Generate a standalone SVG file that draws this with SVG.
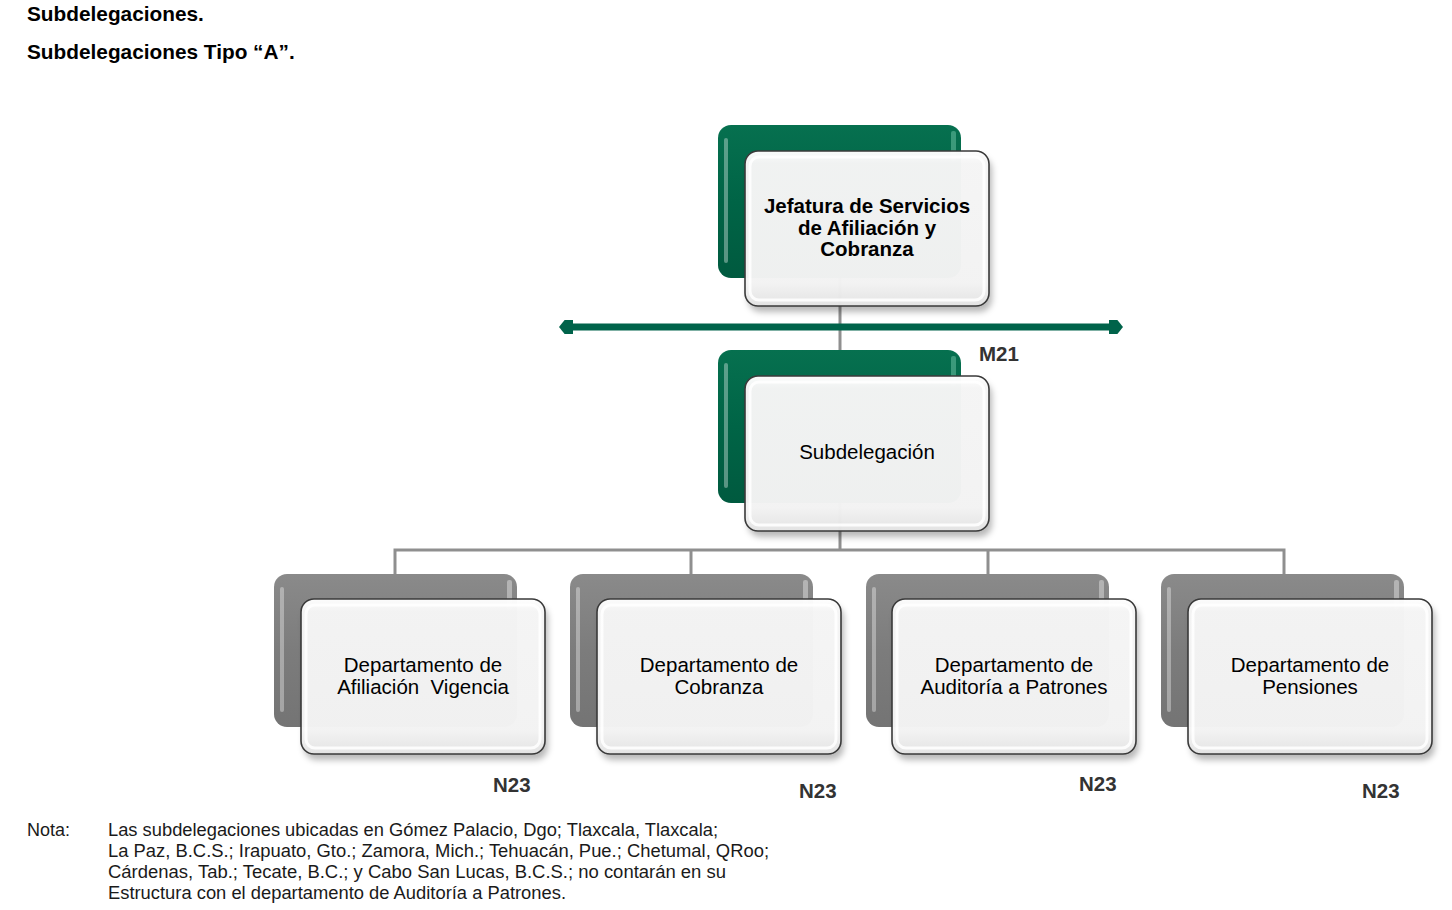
<svg xmlns="http://www.w3.org/2000/svg" width="1452" height="910" viewBox="0 0 1452 910">
<defs>
<style>
.hdr{font-family:"Liberation Sans",Arial,sans-serif;font-weight:bold;font-size:20.8px;fill:#000}
.lvl{font-family:"Liberation Sans",Arial,sans-serif;font-weight:bold;font-size:20.5px;fill:#333}
.nb{font-family:"Liberation Sans",Arial,sans-serif;font-weight:bold;font-size:20.5px;fill:#000;text-anchor:middle}
.nr{font-family:"Liberation Sans",Arial,sans-serif;font-size:20.5px;fill:#000;text-anchor:middle;white-space:pre}
.note{font-family:"Liberation Sans",Arial,sans-serif;font-size:17.5px;fill:#1a1a1a}
.conn{stroke:#8f8f8f;stroke-width:3;fill:none}
.front{fill:url(#frontG);fill-opacity:0.975;stroke:#3a3a3a;stroke-width:1.6}
.bevel{fill:none;stroke:#ffffff;stroke-width:3;stroke-opacity:0.85}
.shadow{fill:#000;fill-opacity:0.28;filter:url(#blur)}
.hlg{fill:#ffffff;fill-opacity:0.35}
</style>
<linearGradient id="greenG" x1="0" y1="0" x2="0" y2="1">
<stop offset="0" stop-color="#06704f"/>
<stop offset="0.5" stop-color="#006446"/>
<stop offset="1" stop-color="#005a3f"/>
</linearGradient>
<linearGradient id="grayG" x1="0" y1="0" x2="0" y2="1">
<stop offset="0" stop-color="#8a8a8a"/>
<stop offset="0.5" stop-color="#7c7c7c"/>
<stop offset="1" stop-color="#747474"/>
</linearGradient>
<linearGradient id="frontG" x1="0" y1="0" x2="0" y2="1">
<stop offset="0" stop-color="#ffffff"/>
<stop offset="0.08" stop-color="#f6f6f6"/>
<stop offset="0.85" stop-color="#f4f4f4"/>
<stop offset="1" stop-color="#e4e4e4"/>
</linearGradient>
<filter id="blur" x="-10%" y="-10%" width="120%" height="130%">
<feGaussianBlur stdDeviation="3"/>
</filter>
<marker id="barEnd" viewBox="0 0 10 10" refX="5" refY="5" markerWidth="2" markerHeight="2" orient="auto-start-reverse" markerUnits="strokeWidth">
<path d="M0,0 L6,0 L10,5 L6,10 L0,10 Z" fill="#00634a"/>
</marker>
</defs>
<rect width="1452" height="910" fill="#ffffff"/>

<text class="hdr" x="27" y="21">Subdelegaciones.</text>
<text class="hdr" x="27" y="59">Subdelegaciones Tipo “A”.</text>

<g id="connectors">
<path class="conn" d="M840,200 V427"/>
<path class="conn" d="M840,427 V550"/>
<path class="conn" d="M395,650 V550 H1284 V650"/>
<path class="conn" d="M691,550 V650"/>
<path class="conn" d="M988,550 V650"/>
</g>

<g id="node-jefatura">
<rect x="718" y="125" width="243" height="153" rx="13" fill="url(#greenG)"/>
<rect x="724" y="138" width="4" height="125" rx="2" class="hlg"/>
<rect x="951" y="131" width="5" height="30" rx="2" fill="#5fb79a" fill-opacity="0.6"/>
<rect x="748" y="157" width="244" height="155" rx="13" class="shadow"/>
<rect x="745" y="151" width="244" height="155" rx="13" class="front"/>
<rect x="750" y="157" width="234" height="143" rx="9" class="bevel"/>
<text class="nb" x="867" y="213">Jefatura de Servicios</text>
<text class="nb" x="867" y="234.5">de Afiliación y</text>
<text class="nb" x="867" y="256">Cobranza</text>
</g>

<g id="bar">
<line x1="566" y1="327" x2="1116" y2="327" stroke="#00634a" stroke-width="7" marker-start="url(#barEnd)" marker-end="url(#barEnd)"/>
</g>

<text class="lvl" x="979" y="361">M21</text>

<g id="node-subdelegacion">
<rect x="718" y="350" width="243" height="153" rx="13" fill="url(#greenG)"/>
<rect x="724" y="363" width="4" height="125" rx="2" class="hlg"/>
<rect x="951" y="356" width="5" height="30" rx="2" fill="#5fb79a" fill-opacity="0.6"/>
<rect x="748" y="382" width="244" height="155" rx="13" class="shadow"/>
<rect x="745" y="376" width="244" height="155" rx="13" class="front"/>
<rect x="750" y="382" width="234" height="143" rx="9" class="bevel"/>
<text class="nr" x="867" y="459">Subdelegación</text>
</g>

<g id="node-afiliacion">
<rect x="274" y="574" width="243" height="153" rx="13" fill="url(#grayG)"/>
<rect x="280" y="587" width="4" height="125" rx="2" class="hlg"/>
<rect x="507" y="580" width="5" height="30" rx="2" fill="#d0d0d0" fill-opacity="0.6"/>
<rect x="304" y="605" width="244" height="155" rx="13" class="shadow"/>
<rect x="301" y="599" width="244" height="155" rx="13" class="front"/>
<rect x="306" y="605" width="234" height="143" rx="9" class="bevel"/>
<text class="nr" x="423" y="672">Departamento de</text>
<text class="nr" x="423" y="694">Afiliación  Vigencia</text>
</g>
<text class="lvl" x="493" y="792">N23</text>

<g id="node-cobranza">
<rect x="570" y="574" width="243" height="153" rx="13" fill="url(#grayG)"/>
<rect x="576" y="587" width="4" height="125" rx="2" class="hlg"/>
<rect x="803" y="580" width="5" height="30" rx="2" fill="#d0d0d0" fill-opacity="0.6"/>
<rect x="600" y="605" width="244" height="155" rx="13" class="shadow"/>
<rect x="597" y="599" width="244" height="155" rx="13" class="front"/>
<rect x="602" y="605" width="234" height="143" rx="9" class="bevel"/>
<text class="nr" x="719" y="672">Departamento de</text>
<text class="nr" x="719" y="694">Cobranza</text>
</g>
<text class="lvl" x="799" y="798">N23</text>

<g id="node-auditoria">
<rect x="866" y="574" width="243" height="153" rx="13" fill="url(#grayG)"/>
<rect x="872" y="587" width="4" height="125" rx="2" class="hlg"/>
<rect x="1099" y="580" width="5" height="30" rx="2" fill="#d0d0d0" fill-opacity="0.6"/>
<rect x="895" y="605" width="244" height="155" rx="13" class="shadow"/>
<rect x="892" y="599" width="244" height="155" rx="13" class="front"/>
<rect x="897" y="605" width="234" height="143" rx="9" class="bevel"/>
<text class="nr" x="1014" y="672">Departamento de</text>
<text class="nr" x="1014" y="694">Auditoría a Patrones</text>
</g>
<text class="lvl" x="1079" y="791">N23</text>

<g id="node-pensiones">
<rect x="1161" y="574" width="243" height="153" rx="13" fill="url(#grayG)"/>
<rect x="1167" y="587" width="4" height="125" rx="2" class="hlg"/>
<rect x="1394" y="580" width="5" height="30" rx="2" fill="#d0d0d0" fill-opacity="0.6"/>
<rect x="1191" y="605" width="244" height="155" rx="13" class="shadow"/>
<rect x="1188" y="599" width="244" height="155" rx="13" class="front"/>
<rect x="1193" y="605" width="234" height="143" rx="9" class="bevel"/>
<text class="nr" x="1310" y="672">Departamento de</text>
<text class="nr" x="1310" y="694">Pensiones</text>
</g>
<text class="lvl" x="1362" y="798">N23</text>

<g id="nota">
<text class="note" x="27" y="836" textLength="43" lengthAdjust="spacingAndGlyphs">Nota:</text>
<text class="note" x="108" y="836" textLength="610" lengthAdjust="spacingAndGlyphs">Las subdelegaciones ubicadas en Gómez Palacio, Dgo; Tlaxcala, Tlaxcala;</text>
<text class="note" x="108" y="857" textLength="661" lengthAdjust="spacingAndGlyphs">La Paz, B.C.S.; Irapuato, Gto.; Zamora, Mich.; Tehuacán, Pue.; Chetumal, QRoo;</text>
<text class="note" x="108" y="878" textLength="618" lengthAdjust="spacingAndGlyphs">Cárdenas, Tab.; Tecate, B.C.; y Cabo San Lucas, B.C.S.; no contarán en su</text>
<text class="note" x="108" y="899" textLength="458" lengthAdjust="spacingAndGlyphs">Estructura con el departamento de Auditoría a Patrones.</text>
</g>
</svg>
